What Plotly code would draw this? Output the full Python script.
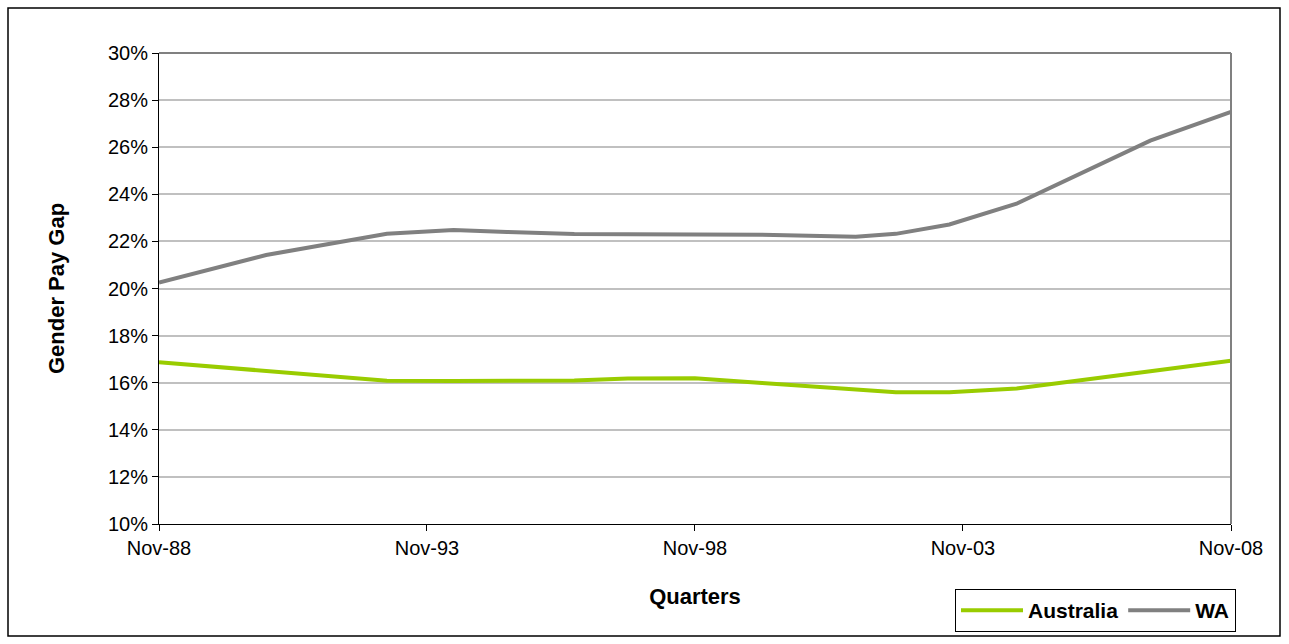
import plotly.graph_objects as go

# Quarterly observation dates (vertices of the smoothed trend series)
quarters = ["1988-11-01", "1990-11-01", "1993-02-01", "1994-05-01", "1995-05-01",
            "1996-08-01", "1997-08-01", "1998-11-01", "2000-02-01", "2001-11-01",
            "2002-08-01", "2003-08-01", "2004-11-01", "2007-05-01", "2008-11-01"]

# Gender pay gap, percent
australia = [16.87, 16.50, 16.08, 16.07, 16.07, 16.09, 16.18, 16.19, 15.99, 15.68,
             15.59, 15.59, 15.75, 16.49, 16.93]
wa = [20.25, 21.42, 22.32, 22.48, 22.40, 22.31, 22.30, 22.30, 22.28, 22.20,
      22.32, 22.72, 23.60, 26.28, 27.50]

tick_dates = ["1988-11-01", "1993-11-01", "1998-11-01", "2003-11-01", "2008-11-01"]
tick_labels = ["Nov-88", "Nov-93", "Nov-98", "Nov-03", "Nov-08"]
y_ticks = list(range(10, 31, 2))
y_labels = [f"{v}%" for v in y_ticks]

FONT = "Liberation Sans, Arial, sans-serif"

fig = go.Figure()
fig.add_trace(go.Scatter(x=quarters, y=australia, name="Australia", mode="lines",
                         line=dict(color="#99CC00", width=4)))
fig.add_trace(go.Scatter(x=quarters, y=wa, name="WA", mode="lines",
                         line=dict(color="#808080", width=4)))

L, R, T, B = 159, 1231, 53, 524
W, H = 1289, 644


def px(x):
    return (x - L) / (R - L)


def py(y):
    return (B - y) / (B - T)


fig.update_layout(
    width=W, height=H,
    margin=dict(l=L, r=W - R, t=T, b=H - B),
    paper_bgcolor="white", plot_bgcolor="white",
    font=dict(family=FONT, color="black", size=20),
    showlegend=True,
    legend=dict(orientation="h", x=px(955), y=py(589), xanchor="left", yanchor="top",
                bgcolor="white", bordercolor="black", borderwidth=1,
                font=dict(family=FONT, size=21, color="black", weight="bold"),
                itemwidth=62, tracegroupgap=0),
    xaxis=dict(range=["1988-11-01", "2008-11-01"], tickvals=tick_dates, ticktext=tick_labels,
               showgrid=False, showline=True, linecolor="black", linewidth=1,
               ticks="outside", ticklen=6, tickcolor="black", tickfont=dict(size=20),
               title=dict(text="<b>Quarters</b>", font=dict(size=22), standoff=30),
               zeroline=False),
    yaxis=dict(range=[10, 30], tickvals=y_ticks, ticktext=y_labels,
               showgrid=True, gridcolor="#C0C0C0", gridwidth=2,
               showline=True, linecolor="black", linewidth=1,
               ticks="outside", ticklen=6, tickcolor="black", tickfont=dict(size=20),
               title=dict(text="<b>Gender Pay Gap</b>", font=dict(size=22), standoff=37),
               zeroline=False),
    shapes=[
        # plot-area frame on top and right
        dict(type="line", xref="paper", yref="paper", x0=0, x1=1, y0=1, y1=1,
             line=dict(color="#808080", width=2), layer="above"),
        dict(type="line", xref="paper", yref="paper", x0=1, x1=1, y0=0, y1=1,
             line=dict(color="#808080", width=2), layer="above"),
        # chart border
        dict(type="rect", xref="paper", yref="paper",
             x0=px(8), x1=px(1280), y0=py(636), y1=py(8),
             line=dict(color="black", width=1.5), layer="below"),
    ],
)

fig.write_html("out.html")
